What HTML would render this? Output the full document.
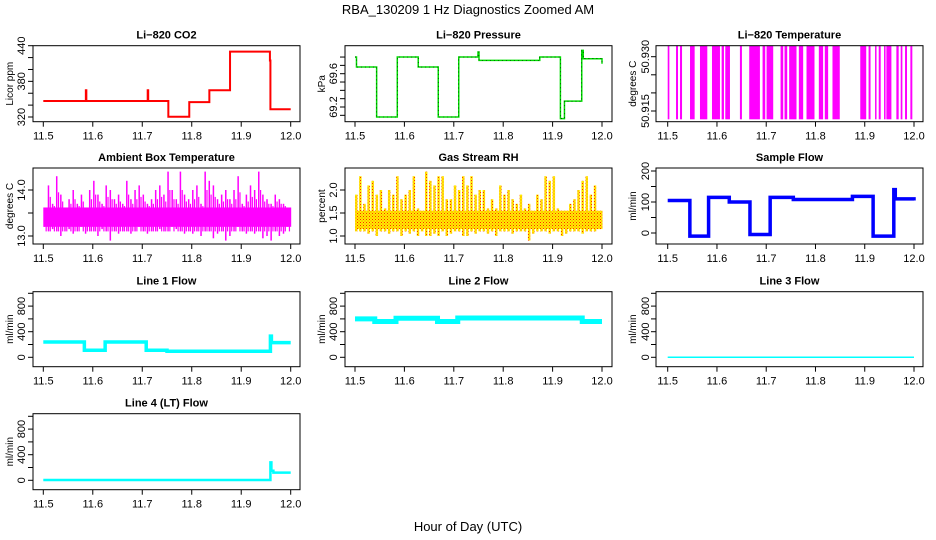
<!DOCTYPE html>
<html><head><meta charset="utf-8"><style>
body{margin:0;background:#fff;}
svg{display:block;font-family:"Liberation Sans",Arial,sans-serif;}
</style></head><body>
<svg id="chart" width="936" height="540" viewBox="0 0 936 540">
<defs>
<pattern id="reddots" x="0" y="0" width="3" height="3" patternUnits="userSpaceOnUse"><rect width="3" height="3" fill="#ffee00"/><rect width="1" height="1" fill="#ff2a00"/><rect x="1.5" y="1.5" width="1" height="1" fill="#ff6a00"/></pattern>
</defs>
<text x="468" y="14" text-anchor="middle" font-size="13">RBA_130209  1 Hz Diagnostics Zoomed AM</text>
<text x="468" y="531" text-anchor="middle" font-size="13">Hour of Day (UTC)</text>
</svg>
<script>
// ---- data ----
const xTicks=[11.5,11.6,11.7,11.8,11.9,12.0];
const xTickLabels=["11.5","11.6","11.7","11.8","11.9","12.0"];
// CO2 step series (time, ppm)
const co2T=[11.5,11.586,11.586,11.587,11.711,11.711,11.712,11.7527,11.795,11.8356,11.8774,11.958,11.959,12.0];
const co2V=[347,347,365,347,347,365,347,320.5,345,365,430,415,333,333];
// Pressure (time, kPa)
const presT=[11.5,11.503,11.5438,11.5856,11.628,11.6685,11.710,11.748,11.749,11.751,11.874,11.9158,11.924,11.958,11.959,11.962,12.0];
const presV=[69.80,69.68,69.08,69.80,69.68,69.08,69.80,69.80,69.86,69.76,69.80,69.06,69.27,69.27,69.88,69.78,69.72];
// Li-820 temperature: low-state intervals
const tempLowStart=[11.5,11.5169,11.525,11.5453,11.5655,11.5899,11.6095,11.6169,11.6466,11.6655,11.6926,11.7007,11.7291,11.7372,11.7466,11.7662,11.7818,11.8068,11.8189,11.8345,11.8909,11.9078,11.9209,11.9284,11.9392,11.9439,11.9642,11.973,11.9818,11.9926];
const tempLowEnd=[11.5034,11.5209,11.5291,11.5547,11.5804,11.6061,11.6142,11.6264,11.6507,11.6872,11.698,11.7142,11.7345,11.7426,11.7615,11.775,11.798,11.8155,11.8257,11.8493,11.903,11.9118,11.9236,11.9324,11.9419,11.9541,11.9689,11.9764,11.9858,11.9966];
const tempHigh=50.9343, tempLow=50.9127;
// Ambient box temperature per-bin envelope (60 bins)
const ambHi=[13.6,14.1,13.7,14.3,13.9,13.6,13.8,14.0,13.7,13.9,13.6,14.0,14.2,13.9,13.7,14.1,14.0,13.8,13.9,13.7,14.2,13.8,14.0,14.1,13.9,13.7,13.8,14.0,14.1,13.9,14.4,14.0,13.8,14.4,13.9,13.8,14.0,14.1,13.7,14.4,14.2,14.1,13.8,13.9,14.0,13.8,14.0,14.3,13.7,13.9,14.1,14.0,14.4,13.9,13.8,13.7,13.9,13.8,13.7,13.6];
const ambLo=[13.2,13.1,13.15,13.1,13.0,13.1,13.15,13.05,13.1,13.2,13.05,13.1,13.1,13.0,13.15,13.1,12.9,13.1,13.05,13.1,13.1,13.05,13.1,13.2,13.1,13.05,13.1,13.1,13.15,13.1,13.1,13.2,13.15,13.1,13.05,13.1,13.05,13.1,13.0,13.1,13.1,12.95,13.05,13.1,12.9,13.0,13.1,13.2,13.1,13.05,13.1,13.05,13.1,12.95,13.0,12.9,13.1,13.0,13.05,13.2];
// Gas stream RH envelope (60 bins)
const rhHi=[1.9,2.3,1.7,2.1,2.2,1.9,2.0,1.6,2.0,1.9,2.3,1.8,1.9,2.0,2.3,1.6,1.5,2.4,2.2,2.1,2.3,2.3,1.8,1.8,2.1,2.0,2.3,2.1,2.3,1.9,2.0,2.0,1.6,1.8,1.6,2.1,1.9,2.0,1.8,1.7,1.9,1.6,1.7,1.5,1.9,1.8,2.3,2.2,2.3,1.6,1.5,1.4,1.7,1.8,2.0,2.2,2.3,1.9,2.1,1.5];
const rhLo=[1.1,1.1,1.1,1.05,1.1,1.0,1.1,1.1,1.05,1.1,1.1,1.0,1.1,1.05,1.1,1.0,1.1,1.0,1.0,1.05,1.0,1.1,1.0,1.05,1.1,1.1,1.0,1.0,1.1,1.05,1.1,1.1,1.05,1.1,1.0,1.1,1.1,1.1,1.05,1.1,1.1,1.1,0.9,1.05,1.1,1.1,1.1,1.05,1.1,1.1,1.0,1.05,1.1,1.1,1.1,1.05,1.1,1.1,1.1,1.15];
// Sample flow (time, ml/min)
const sfT=[11.5,11.545,11.583,11.625,11.667,11.708,11.755,11.875,11.917,11.958,11.959,11.962,12.0];
const sfV=[105,-10,115,100,-5,115,108,118,-10,-10,140,110,105];
// Line flows
const l1T=[11.5,11.583,11.625,11.708,11.75,11.958,11.959,11.961,12.0];
const l1V=[240,110,240,110,95,95,330,230,230];
const l2T=[11.5,11.54,11.583,11.667,11.708,11.96,12.0];
const l2V=[600,560,610,560,615,560,560];
const l3T=[11.5,12.0];
const l3V=[0,0];
const l4T=[11.5,11.958,11.959,11.961,11.965,12.0];
const l4V=[5,5,280,150,120,120];

// ---- layout ----
const svg=document.getElementById('chart');
const NS='http://www.w3.org/2000/svg';
function mk(tag,attrs,parent){const e=document.createElementNS(NS,tag);for(const k in attrs)e.setAttribute(k,attrs[k]);(parent||svg).appendChild(e);return e;}
const cols=[{bl:33,br:300,x0:43.3,x1:290.7,yl:9,tl:21},{bl:345,br:612,x0:355,x1:602,yl:321,tl:333},{bl:656,br:923,x0:667.7,x1:914,yl:632,tl:645}];
const rows=[{bt:45.7,bb:121.7},{bt:168,bb:244},{bt:291.7,bb:366.7},{bt:413.7,bb:489.7}];

function panel(name,title,col,row,ylab,yv0,yp0,yv1,yp1,yticks,ylabels,draw){
  const c=cols[col],r=rows[row];
  const g=mk('g',{});
  
  
  const sx=t=>c.x0+(t-11.5)/(0.5)*(c.x1-c.x0);
  const sy=v=>yp0+(v-yv0)/(yv1-yv0)*(yp1-yp0);
  const clip='clip-'+name;
  const cp=mk('clipPath',{id:clip},g);mk('rect',{x:c.bl,y:r.bt,width:c.br-c.bl,height:r.bb-r.bt},cp);
  const dg=mk('g',{'clip-path':'url(#'+clip+')'},g);
  
  
  draw(dg,sx,sy);
  const box=mk('rect',{x:c.bl,y:r.bt,width:c.br-c.bl,height:r.bb-r.bt,fill:'none',stroke:'#000','stroke-width':1},g);
  
  
  const tt=mk('text',{x:(c.bl+c.br)/2,y:r.bt-7,'text-anchor':'middle','font-size':11,'font-weight':'bold'},g);
  tt.textContent=title;
  
  
  xTicks.forEach((t,i)=>{const x=sx(t);mk('line',{x1:x,x2:x,y1:r.bb,y2:r.bb+5,stroke:'#000'},g);
    const lb=mk('text',{x:x,y:r.bb+18,'text-anchor':'middle','font-size':11},g);lb.textContent=xTickLabels[i];
    
    });
  yticks.forEach(v=>{const y=sy(v);mk('line',{x1:c.bl-5,x2:c.bl,y1:y,y2:y,stroke:'#000'},g);});
  ylabels.forEach(([v,s])=>{const y=sy(v);const lb=mk('text',{x:c.tl+4,y:y,'text-anchor':'middle','font-size':11,transform:'rotate(-90 '+(c.tl+4)+' '+y+')'},g);lb.textContent=s;
    
    });
  const yl=mk('text',{x:c.yl+4,y:(r.bt+r.bb)/2,'text-anchor':'middle','font-size':10,transform:'rotate(-90 '+(c.yl+4)+' '+(r.bt+r.bb)/2+')'},g);
  yl.textContent=ylab;
  
  
}
function stepPath(T,V,sx,sy){let d='M'+sx(T[0])+','+sy(V[0]);for(let i=1;i<T.length;i++){d+='H'+sx(T[i])+'V'+sy(V[i]);}return d;}

panel('co2','Li\u2212820 CO2',0,0,'Licor ppm',320,117,440,45.7,[320,340,360,380,400,420,440],[[320,'320'],[380,'380'],[440,'440']],(g,sx,sy)=>{
  const p=mk('path',{d:stepPath(co2T,co2V,sx,sy),fill:'none',stroke:'#ff0000','stroke-width':2},g);
  });
panel('pressure','Li\u2212820 Pressure',1,0,'kPa',69.2,107,69.6,73.7,[69.1,69.2,69.3,69.4,69.5,69.6,69.7,69.8],[[69.2,'69.2'],[69.6,'69.6']],(g,sx,sy)=>{
  const p=mk('path',{d:stepPath(presT,presV,sx,sy),fill:'none',stroke:'#00dd00','stroke-width':1.5},g);
  
  const q=mk('path',{d:stepPath(presT,presV,sx,sy),fill:'none',stroke:'#000','stroke-width':0.6,'stroke-dasharray':'1 3'},g);
  });
panel('li820-temp','Li\u2212820 Temperature',2,0,'degrees C',50.915,111,50.930,56.7,[50.915,50.920,50.925,50.930],[[50.915,'50.915'],[50.930,'50.930']],(g,sx,sy)=>{
  const l=mk('line',{x1:sx(11.5),x2:sx(12),y1:sy(tempHigh),y2:sy(tempHigh),stroke:'#ff00ff','stroke-width':1.5},g);
  
  tempLowStart.forEach((s,i)=>{const x=sx(s),w=Math.max(1.5,sx(tempLowEnd[i])-x);
    const r=mk('rect',{x:x,y:sy(tempHigh),width:w,height:sy(tempLow)-sy(tempHigh),fill:'#ff00ff'},g);
    });});
panel('ambient','Ambient Box Temperature',0,1,'degrees C',13.0,236,14.0,190,[13.0,13.5,14.0],[[13.0,'13.0'],[14.0,'14.0']],(g,sx,sy)=>{
  const n=ambHi.length;ambHi.forEach((h,i)=>{const x=sx(11.5+0.5*i/n),w=sx(11.5+0.5*(i+1)/n)-x;
    mk('rect',{x:x,y:sy(13.62),width:w+0.5,height:sy(13.2)-sy(13.62),fill:'#ff00ff'},g);
    const r=mk('rect',{x:x+0.3,y:sy(h),width:1.5,height:sy(ambLo[i])-sy(h),fill:'#ff00ff'},g);
    
    mk('rect',{x:x+w*0.55,y:sy((h+13.6)/2),width:1.2,height:sy(13.1)-sy((h+13.6)/2),fill:'#ff00ff'},g);});});
panel('rh','Gas Stream RH',1,1,'percent',1.0,236,2.0,190,[1.0,1.5,2.0],[[1.0,'1.0'],[1.5,'1.5'],[2.0,'2.0']],(g,sx,sy)=>{
  const n=rhHi.length;rhHi.forEach((h,i)=>{const x=sx(11.5+0.5*i/n),w=sx(11.5+0.5*(i+1)/n)-x;
    mk('rect',{x:x,y:sy(1.55),width:w+0.5,height:sy(1.15)-sy(1.55),fill:'url(#reddots)'},g);
    const r=mk('rect',{x:x,y:sy(h),width:w*0.6,height:sy(rhLo[i])-sy(h),fill:'url(#reddots)'},g);
    });});
panel('sample-flow','Sample Flow',2,1,'ml/min',0,233,100,202,[0,50,100,150,200],[[0,'0'],[100,'100'],[200,'200']],(g,sx,sy)=>{
  const p=mk('path',{d:stepPath(sfT,sfV,sx,sy),fill:'none',stroke:'#0000ff','stroke-width':3.5},g);
  });
const flowTicks=[0,200,400,600,800,1000],flowLabels=[[0,'0'],[400,'400'],[800,'800']];
panel('line1','Line 1 Flow',0,2,'ml/min',0,357.3,400,331.7,flowTicks,flowLabels,(g,sx,sy)=>{
  const p=mk('path',{d:stepPath(l1T,l1V,sx,sy),fill:'none',stroke:'#00ffff','stroke-width':3.5},g);
  });
panel('line2','Line 2 Flow',1,2,'ml/min',0,357.3,400,331.7,flowTicks,flowLabels,(g,sx,sy)=>{
  const p=mk('path',{d:stepPath(l2T,l2V,sx,sy),fill:'none',stroke:'#00ffff','stroke-width':5},g);
  });
panel('line3','Line 3 Flow',2,2,'ml/min',0,357.3,400,331.7,flowTicks,flowLabels,(g,sx,sy)=>{
  const p=mk('path',{d:stepPath(l3T,l3V,sx,sy),fill:'none',stroke:'#00ffff','stroke-width':1.5},g);
  });
panel('line4','Line 4 (LT) Flow',0,3,'ml/min',0,480.3,400,454.7,flowTicks,flowLabels,(g,sx,sy)=>{
  const p=mk('path',{d:stepPath(l4T,l4V,sx,sy),fill:'none',stroke:'#00ffff','stroke-width':2.5},g);
  });
</script>
</body></html>
